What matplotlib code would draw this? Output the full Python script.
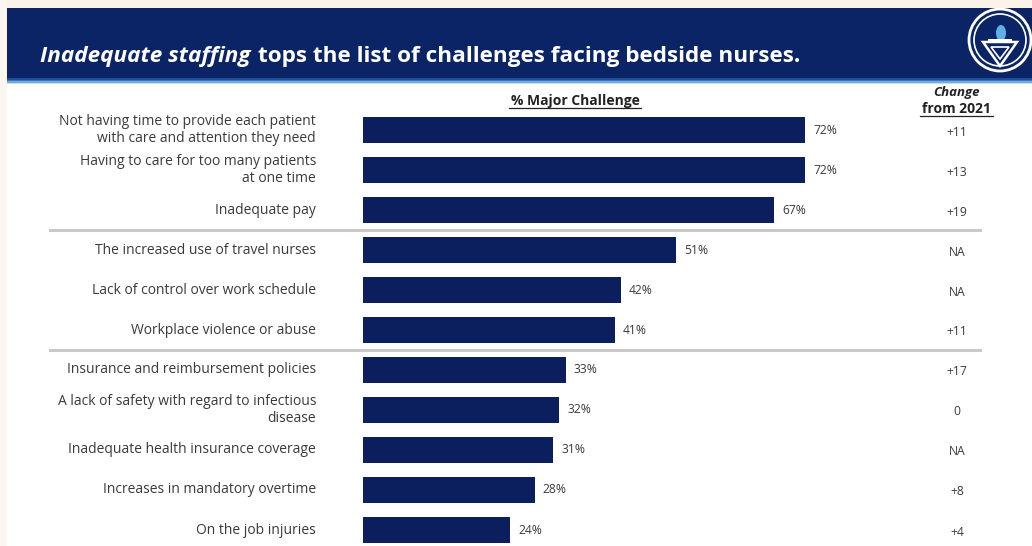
import numpy as np
import matplotlib.pyplot as plt
from matplotlib.patches import Rectangle, Circle, Polygon, Ellipse
from matplotlib.transforms import blended_transform_factory

W, H = 1032, 546

challenges = [
    'Not having time to provide each patient\nwith care and attention they need',
    'Having to care for too many patients\nat one time',
    'Inadequate pay',
    'The increased use of travel nurses',
    'Lack of control over work schedule',
    'Workplace violence or abuse',
    'Insurance and reimbursement policies',
    'A lack of safety with regard to infectious\ndisease',
    'Inadequate health insurance coverage',
    'Increases in mandatory overtime',
    'On the job injuries',
]
major_pct = [72, 72, 67, 51, 42, 41, 33, 32, 31, 28, 24]
change_2021 = ['+11', '+13', '+19', 'NA', 'NA', '+11', '+17', '0', 'NA', '+8', '+4']
group_breaks = [3, 6]  # rows where a new group starts

navy = '#0b1f5e'
text_grey = '#3a3a3a'
plt.rcParams['font.family'] = ['Open Sans', 'DejaVu Sans']

fig = plt.figure(figsize=(W / 100, H / 100), dpi=100)

# background layer in pixel coordinates
bg = fig.add_axes([0, 0, 1, 1])
bg.set_xlim(0, W)
bg.set_ylim(H, 0)
bg.axis('off')
bg.add_patch(Rectangle((0, 0), W, 8, color='#fbf3ea', lw=0))
bg.add_patch(Rectangle((0, 0), 7, H, color='#fbf6ef', lw=0))
bg.add_patch(Rectangle((7, 8), W - 7, 70, color='#0a2466', lw=0))
# soft light-blue edge under the header band
for k, c in enumerate(['#1d4f9a', '#3a78c0', '#79a9da', '#c4daf0']):
    bg.add_patch(Rectangle((7, 78 + k * 1.5), W - 7, 1.6, color=c, lw=0))

title_size = 16.2
bg.text(40, 62, 'Inadequate staffing', color='white', fontsize=title_size,
        fontweight='bold', style='italic', va='baseline', ha='left')
t = bg.text(40, 62, 'Inadequate staffing', alpha=0, fontsize=title_size,
            fontweight='bold', style='italic')
fig.canvas.draw()
bb = t.get_window_extent()
bg.text(40 + bb.width + 7, 62, 'tops the list of challenges facing bedside nurses.',
        color='white', fontsize=title_size, fontweight='bold',
        va='baseline', ha='left')

# logo
cx, cy = 1000, 40
bg.add_patch(Circle((cx, cy), 31, fill=False, ec='white', lw=2))
bg.add_patch(Circle((cx, cy), 26, fill=False, ec='white', lw=1.2))
bg.add_patch(Polygon([(cx - 17, cy + 2), (cx + 17, cy + 2), (cx, cy + 26)],
                     closed=True, fill=False, ec='white', lw=1.8))
bg.add_patch(Polygon([(cx - 9, cy + 7), (cx + 9, cy + 7), (cx, cy + 19)],
                     closed=True, fill=False, ec='white', lw=1.2))
bg.add_patch(Ellipse((cx + 1, cy - 7), 10, 16, color='#5fb0e8', lw=0))
bg.add_patch(Rectangle((cx - 12, cy - 1), 24, 3, color='white', lw=0))

# column headers
bg.text(575, 105, '% Major Challenge', fontsize=10, fontweight='bold',
        color='#222222', ha='center', va='baseline')
bg.plot([509, 641], [108, 108], color='#222222', lw=0.9)
bg.text(956, 96, 'Change', fontsize=9.5, fontweight='bold', style='italic',
        color='#222222', ha='center', va='baseline')
bg.text(956, 113, 'from 2021', fontsize=10, fontweight='bold',
        color='#222222', ha='center', va='baseline')
bg.plot([920, 993], [116, 116], color='#222222', lw=0.9)

# bar panel: 6.14 px per percentage point, rows 40 px apart
x0, y_top, row_h = 363, 110, 40
xmax = (W - x0) / 6.14
n = len(challenges)
y_bot_row = (H - 130) / row_h
ax = fig.add_axes([x0 / W, 0, 1 - x0 / W, (H - y_top) / H])
ax.set_xlim(0, xmax)
ax.set_ylim(y_bot_row, -0.5)
ax.axis('off')

rows = np.arange(n)
ax.barh(rows, major_pct, height=0.66, color=navy, zorder=2)
for i, v in zip(rows, major_pct):
    ax.text(v + 1.3, i, f'{v}%', fontsize=8.7, color=text_grey,
            ha='left', va='center')

left_tr = blended_transform_factory(fig.transFigure, ax.transData)
for i, lab in zip(rows, challenges):
    ax.text(316 / W, i, lab, transform=left_tr, fontsize=10, color=text_grey,
            ha='right', va='center', linespacing=1.15)
for i, ch in zip(rows, change_2021):
    ax.text(957 / W, i + 0.05, ch, transform=left_tr, fontsize=8.7,
            color=text_grey, ha='center', va='center')

# group separators
for b in group_breaks:
    ax.plot([50 / W, 980 / W], [b - 0.5, b - 0.5], transform=left_tr,
            color='#c9c9c9', lw=2.2, zorder=1, clip_on=False)

fig.savefig('out.png', dpi=100)
